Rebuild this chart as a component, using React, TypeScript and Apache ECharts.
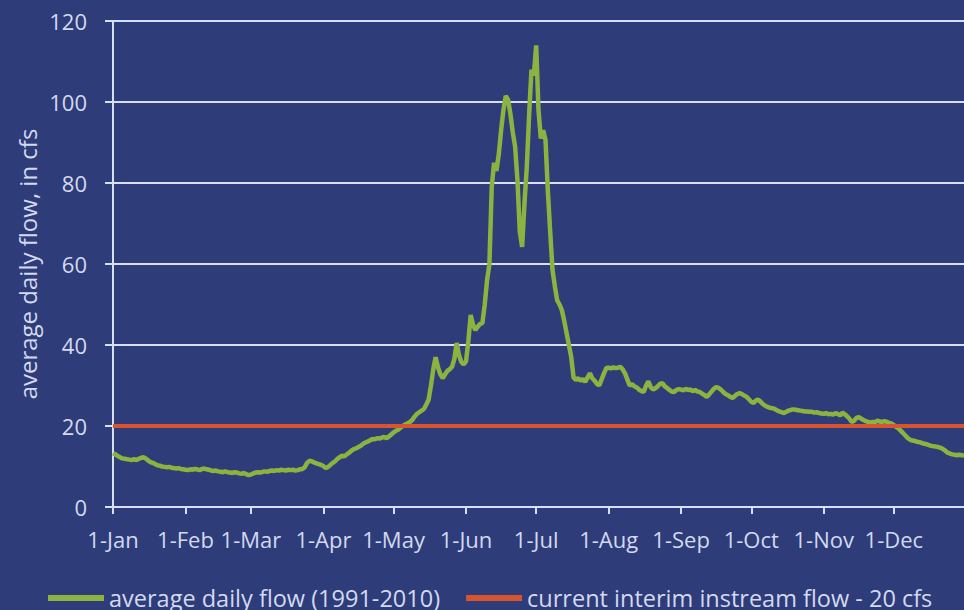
import React, { useEffect, useRef } from "react";
import * as echarts from "echarts";

const MONTHS = ["Jan", "Feb", "Mar", "Apr", "May", "Jun", "Jul", "Aug", "Sep", "Oct", "Nov", "Dec"];
const MONTH_DAYS = [31, 28, 31, 30, 31, 30, 31, 31, 30, 31, 30, 31];

const jan = [13.3, 13.0, 12.6, 12.3, 12.0, 11.9, 11.8, 11.7, 11.6, 11.8, 11.6, 11.9, 12.1, 12.3, 12.0, 11.5, 11.1, 10.9, 10.6, 10.3, 10.2, 10.0, 9.9, 9.8, 9.9, 9.7, 9.6, 9.5, 9.6, 9.4, 9.3];
const feb = [9.2, 9.1, 9.3, 9.2, 9.4, 9.3, 9.1, 9.4, 9.5, 9.3, 9.2, 9.0, 8.9, 9.0, 8.8, 8.7, 8.6, 8.8, 8.6, 8.5, 8.4, 8.6, 8.5, 8.3, 8.2, 8.4, 8.1, 7.9];
const mar = [8.0, 8.3, 8.5, 8.6, 8.5, 8.7, 8.8, 8.7, 8.9, 9.0, 8.9, 9.1, 9.0, 9.2, 9.1, 9.0, 9.2, 9.1, 9.2, 9.0, 9.1, 9.3, 9.4, 9.8, 10.9, 11.4, 11.3, 11.0, 10.8, 10.6, 10.4];
const apr = [10.1, 9.6, 9.9, 10.4, 10.9, 11.3, 11.9, 12.3, 12.7, 12.5, 13.0, 13.4, 13.9, 14.3, 14.5, 14.8, 15.1, 15.6, 15.9, 16.2, 16.5, 16.8, 16.7, 17.0, 16.9, 17.1, 17.3, 17.0, 17.4, 17.9];
const may = [18.4, 18.8, 19.1, 19.6, 20.0, 20.4, 20.7, 21.0, 21.5, 22.3, 23.0, 23.4, 23.8, 24.2, 25.3, 26.5, 30.0, 34.0, 37.0, 34.5, 32.8, 31.8, 32.7, 33.6, 34.0, 34.6, 36.5, 40.5, 37.5, 35.8, 35.2];
const jun = [36.0, 41.0, 47.4, 45.0, 43.7, 44.5, 45.2, 45.4, 50.0, 56.0, 60.0, 79.0, 85.0, 83.0, 87.0, 93.0, 98.0, 101.5, 100.5, 97.0, 92.5, 89.0, 80.7, 68.0, 64.2, 75.0, 84.0, 97.0, 108.0, 106.5];
const jul = [114.0, 98.0, 91.0, 93.0, 90.6, 78.0, 68.0, 58.5, 54.5, 51.0, 50.0, 48.6, 46.0, 43.0, 40.0, 37.0, 32.0, 31.4, 31.8, 31.2, 31.6, 30.9, 32.0, 33.0, 31.8, 31.2, 30.4, 30.0, 31.5, 33.0, 34.3];
const aug = [34.4, 34.2, 34.5, 34.3, 34.4, 34.6, 34.0, 33.0, 31.5, 30.0, 30.3, 29.8, 29.5, 29.0, 28.6, 28.4, 30.0, 31.0, 29.6, 29.0, 29.3, 29.8, 30.4, 30.6, 29.8, 29.4, 28.9, 28.5, 28.4, 28.9, 29.1];
const sep = [29.0, 28.8, 29.2, 28.9, 29.0, 28.6, 28.9, 28.5, 28.4, 28.0, 27.6, 27.2, 27.8, 28.5, 29.2, 29.6, 29.4, 29.0, 28.4, 27.9, 27.6, 27.2, 26.9, 27.4, 27.9, 28.1, 27.9, 27.5, 27.2, 26.6];
const oct = [26.0, 25.7, 26.3, 26.5, 26.0, 25.4, 25.0, 24.7, 24.5, 24.4, 24.2, 23.9, 23.6, 23.4, 23.2, 23.5, 23.8, 24.0, 24.1, 24.0, 23.9, 23.8, 23.7, 23.6, 23.6, 23.5, 23.5, 23.3, 23.4, 23.2, 23.1];
const nov = [23.0, 23.2, 22.9, 23.0, 22.8, 23.2, 23.0, 22.6, 23.3, 22.9, 22.4, 21.8, 21.0, 21.3, 22.0, 22.2, 21.8, 21.5, 21.2, 21.0, 20.9, 21.0, 21.0, 21.3, 21.1, 21.0, 21.2, 21.0, 20.8, 20.6];
const dec = [20.2, 19.8, 19.4, 18.8, 18.2, 17.6, 17.0, 16.6, 16.4, 16.3, 16.1, 16.0, 15.8, 15.6, 15.5, 15.3, 15.1, 15.0, 14.9, 14.8, 14.6, 14.3, 13.9, 13.4, 13.2, 13.0, 12.9, 12.8, 12.9, 12.8, 12.7];

const INSTREAM_FLOW = 20;
const SERIES_FLOW = "average daily flow (1991-2010)";
const SERIES_INSTREAM = "current interim instream flow - 20 cfs";
const Y_TITLE = "average daily flow, in cfs";

const dailyFlow = [...jan, ...feb, ...mar, ...apr, ...may, ...jun, ...jul, ...aug, ...sep, ...oct, ...nov, ...dec];

const dayLabels: string[] = [];
const monthStart = new Set<number>();
MONTH_DAYS.forEach((n, m) => {
  for (let d = 1; d <= n; d++) {
    if (d === 1) monthStart.add(dayLabels.length);
    dayLabels.push(`${d}-${MONTHS[m]}`);
  }
});
const instream = dayLabels.map(() => INSTREAM_FLOW);

const FONT = "'Open Sans', sans-serif";
const TEXT = "#d3d9ee";
const LINE = "#d9dff2";

export default function App() {
  const ref = useRef<HTMLDivElement>(null);
  useEffect(() => {
    if (!ref.current) return;
    const chart = echarts.init(ref.current, null, { renderer: "svg" });
    chart.setOption({
      animation: false,
      backgroundColor: "#2e3c7a",
      textStyle: { fontFamily: FONT },
      grid: { left: 113, top: 21, right: -6, bottom: 103, containLabel: false },
      legend: {
        left: 43,
        top: 581,
        itemWidth: 56,
        itemHeight: 6,
        itemGap: 26,
        icon: "rect",
        textStyle: { color: TEXT, fontSize: 23.5, fontFamily: FONT },
        data: [SERIES_FLOW, SERIES_INSTREAM],
      },
      graphic: [
        {
          type: "text",
          x: 27,
          y: 264,
          rotation: Math.PI / 2,
          style: {
            text: Y_TITLE,
            fill: TEXT,
            fontSize: 24,
            fontFamily: FONT,
            align: "center",
            verticalAlign: "middle",
          },
        },
      ],
      xAxis: {
        type: "category",
        data: dayLabels,
        boundaryGap: false,
        axisLine: { lineStyle: { color: LINE, width: 2 } },
        axisTick: {
          show: true,
          length: 7,
          interval: (i: number) => monthStart.has(i),
          lineStyle: { color: LINE, width: 2 },
        },
        axisLabel: {
          interval: (i: number) => monthStart.has(i),
          color: TEXT,
          fontSize: 22,
          margin: 21,
          fontFamily: FONT,
        },
        splitLine: { show: false },
      },
      yAxis: {
        type: "value",
        min: 0,
        max: 120,
        interval: 20,
        axisLine: { show: true, lineStyle: { color: LINE, width: 2 } },
        axisTick: { show: true, length: 8, lineStyle: { color: LINE, width: 2 } },
        axisLabel: { color: TEXT, fontSize: 22, margin: 26, fontFamily: FONT },
        splitLine: { show: true, lineStyle: { color: LINE, width: 2 } },
      },
      series: [
        {
          name: SERIES_FLOW,
          type: "line",
          data: dailyFlow,
          showSymbol: false,
          symbol: "none",
          itemStyle: { color: "#8cb33f" },
          lineStyle: { color: "#8cb33f", width: 4.5 },
          z: 3,
        },
        {
          name: SERIES_INSTREAM,
          type: "line",
          data: instream,
          showSymbol: false,
          symbol: "none",
          itemStyle: { color: "#d8542f" },
          lineStyle: { color: "#d8542f", width: 4 },
          z: 4,
        },
      ],
    });
    return () => chart.dispose();
  }, []);
  return <div ref={ref} style={{ position: "fixed", left: 0, top: 0, width: 964, height: 610 }} />;
}
